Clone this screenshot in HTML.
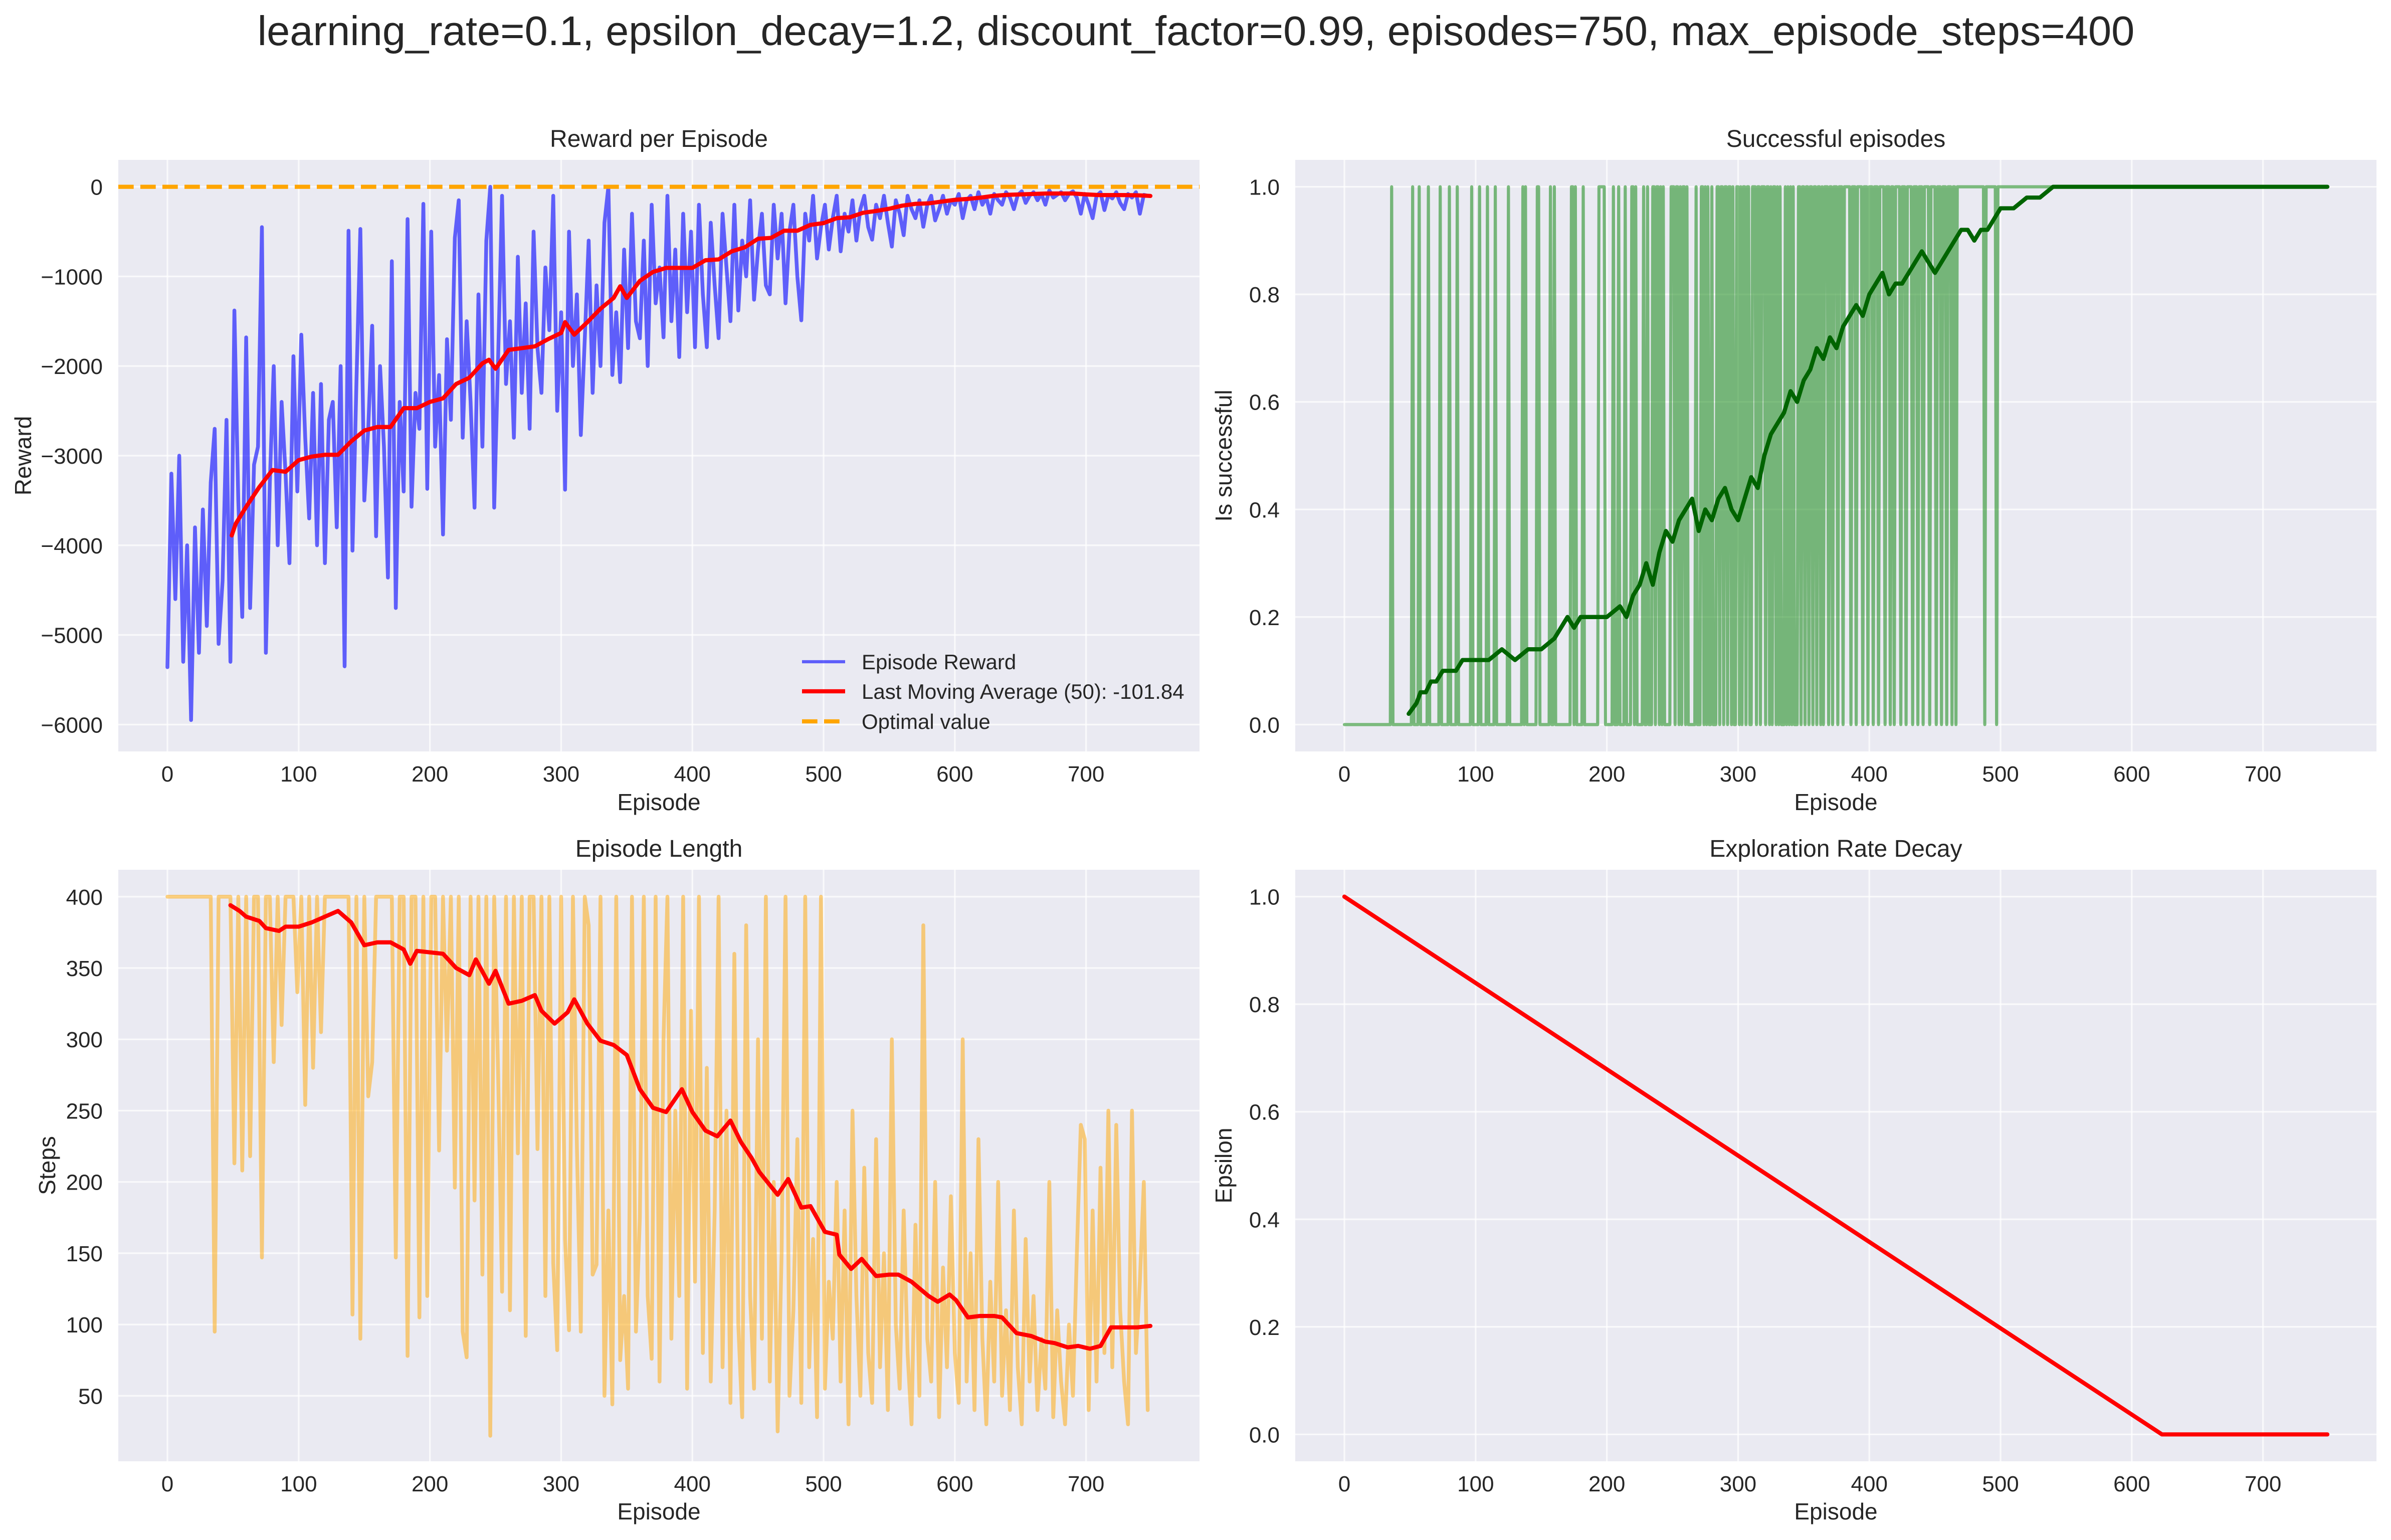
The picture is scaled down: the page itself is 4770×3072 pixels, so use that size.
<!DOCTYPE html>
<html><head><meta charset="utf-8">
<style>
html,body{margin:0;padding:0;background:#fff;}
svg{display:block;font-family:"Liberation Sans",Arial,sans-serif;}
</style></head>
<body>
<svg id="fig" width="4770" height="3072" viewBox="0 0 4770 3072" xmlns="http://www.w3.org/2000/svg">
<rect width="4770" height="3072" fill="#ffffff"/>
<text x="2386" y="90" font-size="83" text-anchor="middle" fill="#262626">learning_rate=0.1, epsilon_decay=1.2, discount_factor=0.99, episodes=750, max_episode_steps=400</text>
</svg>
<script>
// ---------- data ----------
const xTickVals = [0,100,200,300,400,500,600,700];
const rewardTickVals = [0,-1000,-2000,-3000,-4000,-5000,-6000];
const fracTickVals = [0,0.2,0.4,0.6,0.8,1.0];
const fracTickLabels = ["0.0","0.2","0.4","0.6","0.8","1.0"];
const stepTickVals = [50,100,150,200,250,300,350,400];

const sampleStep = 3; // episodes between samples of rewardSamples / stepSamples
const rewardSamples = [
-5360,-3200,-4600,-3000,-5300,-4000,-5950,-3800,-5200,-3600,
-4900,-3300,-2700,-5100,-4400,-2600,-5300,-1380,-3500,-4800,
-1680,-4700,-3100,-2900,-450,-5200,-3300,-2000,-4000,-2400,
-3200,-4200,-1890,-3400,-1650,-2800,-3700,-2300,-4000,-2200,
-4200,-2600,-2400,-3800,-2000,-5350,-490,-4060,-2200,-470,
-3500,-2700,-1550,-3900,-2000,-2900,-4360,-830,-4700,-2400,
-3400,-360,-3570,-2300,-2700,-190,-3370,-500,-2900,-2100,
-3880,-1700,-2600,-570,-150,-2800,-1500,-2400,-3580,-1200,
-2900,-600,0,-3580,-1900,-100,-2200,-1500,-2800,-780,
-2300,-1300,-2700,-500,-1800,-2300,-900,-1600,-100,-2500,
-1400,-3380,-500,-2000,-1200,-2770,-1700,-600,-2300,-1100,
-2000,-400,0,-2100,-1400,-2180,-700,-1800,-300,-1500,
-1690,-600,-2000,-200,-1300,-900,-1680,-100,-1500,-700,
-1900,-300,-1400,-500,-1790,-200,-1200,-1790,-400,-1100,
-1690,-300,-900,-1500,-200,-1380,-600,-1000,-150,-1260,
-700,-300,-1100,-1200,-200,-800,-300,-1300,-500,-200,
-1000,-1490,-300,-600,-100,-800,-450,-200,-700,-350,
-100,-720,-300,-500,-150,-600,-250,-100,-450,-590,
-200,-350,-100,-400,-667,-150,-300,-540,-100,-250,
-350,-150,-446,-200,-100,-375,-250,-100,-300,-150,
-200,-80,-350,-150,-100,-250,-60,-200,-120,-300,
-80,-150,-200,-60,-120,-250,-90,-50,-180,-100,
-60,-150,-80,-200,-40,-120,-90,-60,-150,-80,
-50,-120,-300,-80,-200,-350,-100,-60,-260,-90,
-130,-60,-180,-250,-80,-120,-60,-300,-90,-100];
const rewardMaEps = [49,52,60,70,80,90,100,110,120,130,140,150,160,170,180,190,200,210,220,230,240,245,250,260,270,280,290,300,303,310,320,330,340,345,350,360,370,380,400,410,420,430,440,450,460,470,480,490,500,510,520,530,540,550,560,570,580,590,600,610,620,630,640,650,660,670,680,690,700,710,720,730,740,749];
const rewardMaVals = [-3890,-3760,-3570,-3350,-3160,-3180,-3050,-3010,-2990,-2990,-2840,-2720,-2680,-2680,-2470,-2470,-2400,-2360,-2200,-2130,-1970,-1930,-2030,-1820,-1800,-1780,-1700,-1630,-1510,-1650,-1510,-1360,-1240,-1110,-1240,-1050,-950,-905,-905,-820,-810,-720,-675,-580,-570,-490,-490,-425,-405,-350,-340,-290,-270,-245,-210,-190,-185,-165,-145,-135,-120,-100,-90,-85,-80,-75,-75,-75,-85,-92,-92,-92,-95,-102];
const optimalValue = 0;

const totalEpisodes = 750;
const earlySuccessEps = [36,52,57,64,73,80,86,97,103,109,115,125,136,138,147,148,157,160,173,174,176,182,194,195,196,197,198,205,209,214,219,220,222,228,231,235,236,238,239,241,243,249,250,251,253,254,256,258,259,261,268,272,273,275,277,280,284,285,287,288,290,291,293,294,296,299,300,302,304,305,307,308,311,312,313,315,316,318,319,320,322,323,325,327,328,330,332,336,338,340,342,346,347,349,350,352,353,355,356,358,359,361,362,364,366,367,368,370,371,373,374,375,377,378,379,381,382,383];
const lateFailEps = [386,390,395,399,403,407,412,416,419,424,428,433,437,441,446,451,455,459,463,466,488,497];
const lateStartEp = 384;
const successMaEps = [49,55,58,62,66,70,75,80,85,90,95,100,110,120,130,140,150,160,165,170,175,180,190,200,210,215,220,225,230,235,240,245,250,255,260,265,270,275,280,285,290,295,300,305,310,315,320,325,330,335,340,345,350,355,360,365,370,375,380,385,390,395,400,405,410,415,420,425,430,435,440,445,450,455,460,465,470,475,480,485,490,495,500,505,510,520,530,540,545,749];
const successMaVals = [0.02,0.04,0.06,0.06,0.08,0.08,0.10,0.10,0.10,0.12,0.12,0.12,0.12,0.14,0.12,0.14,0.14,0.16,0.18,0.20,0.18,0.20,0.20,0.20,0.22,0.20,0.24,0.26,0.30,0.26,0.32,0.36,0.34,0.38,0.40,0.42,0.36,0.40,0.38,0.42,0.44,0.40,0.38,0.42,0.46,0.44,0.50,0.54,0.56,0.58,0.62,0.60,0.64,0.66,0.70,0.68,0.72,0.70,0.74,0.76,0.78,0.76,0.80,0.82,0.84,0.80,0.82,0.82,0.84,0.86,0.88,0.86,0.84,0.86,0.88,0.90,0.92,0.92,0.90,0.92,0.92,0.94,0.96,0.96,0.96,0.98,0.98,1.0,1.0,1.0];

const stepSamples = [
400,400,400,400,400,400,400,400,400,400,
400,400,95,400,400,400,400,213,400,208,
400,218,400,400,147,400,400,284,400,310,
400,400,400,333,400,254,400,280,400,305,
400,400,400,400,400,400,400,107,400,90,
400,260,284,400,400,400,400,400,147,400,
400,78,400,400,105,400,120,400,400,222,
400,292,400,196,400,95,77,400,187,400,
135,400,22,400,275,123,400,110,400,220,
400,92,400,400,223,400,120,400,143,82,
400,160,96,400,225,95,400,380,135,142,
400,50,180,44,400,75,120,55,400,95,
175,400,120,76,400,60,300,400,90,250,
120,400,55,320,130,400,80,280,60,180,
400,70,250,45,360,100,35,380,120,55,
300,90,400,60,200,25,150,400,50,110,
230,45,400,70,160,35,400,55,130,90,
200,60,180,30,250,120,50,210,80,45,
230,70,150,40,300,100,55,180,80,30,
170,50,380,90,60,200,35,140,70,190,
80,45,300,60,150,40,230,90,30,130,
60,200,50,110,40,180,70,30,160,60,
120,40,90,55,200,35,110,60,30,100,
50,150,240,230,40,180,60,210,80,250,
70,240,110,60,30,250,80,130,200,40];
const stepMaEps = [48,55,60,70,75,85,90,100,110,120,130,140,150,160,170,180,185,190,200,210,220,230,235,245,250,260,270,280,285,295,305,310,320,330,340,350,360,370,380,392,400,410,419,429,437,445,451,465,473,483,490,501,510,512,521,529,540,550,557,567,580,587,596,601,610,619,630,636,647,658,669,676,686,694,703,711,719,728,739,749];
const stepMaVals = [394,390,386,383,378,376,379,379,382,386,390,382,366,368,368,363,353,362,361,360,350,345,356,339,348,325,327,331,320,311,319,328,311,299,296,289,265,252,249,265,249,236,232,243,228,217,207,191,202,182,183,165,163,149,139,146,134,135,135,130,120,116,121,117,105,106,106,105,94,92,88,87,84,85,83,85,98,98,98,99];

const epsilonEps = [0,623,749];
const epsilonVals = [1.0,0.0,0.0];

// ---------- helpers ----------
const NS = "http://www.w3.org/2000/svg";
const fig = document.getElementById("fig");
function mk(tag, parent){ const e = document.createElementNS(NS, tag); parent.appendChild(e); return e; }
const XMIN = -37.45, XMAX = 786.45;
function makeAxes(l, r, t, b, ymin, ymax){
  return { l, r, t, b, ymin, ymax,
    sx: v => l + (v - XMIN) / (XMAX - XMIN) * (r - l),
    sy: v => b - (v - ymin) / (ymax - ymin) * (b - t) };
}
function fmtMinus(v){ return v < 0 ? "\u2212" + Math.abs(v) : String(v); }

function drawFrame(ax, name, yVals, yLabels){
  const g = mk("g", fig);
  
  
  const bg = mk("rect", g);
  bg.setAttribute("x", ax.l); bg.setAttribute("y", ax.t);
  bg.setAttribute("width", ax.r - ax.l); bg.setAttribute("height", ax.b - ax.t);
  bg.setAttribute("fill", "#EAEAF2");
  
  
  xTickVals.forEach(v => {
    const x = ax.sx(v);
    const ln = mk("line", g);
    ln.setAttribute("x1", x); ln.setAttribute("x2", x); ln.setAttribute("y1", ax.t); ln.setAttribute("y2", ax.b);
    ln.setAttribute("stroke", "#ffffff"); ln.setAttribute("stroke-width", "3.3"); ln.setAttribute("opacity", "0.75");
    
    
    const tx = mk("text", g);
    tx.setAttribute("x", x); tx.setAttribute("y", ax.b + 60);
    tx.setAttribute("font-size", "44"); tx.setAttribute("text-anchor", "middle"); tx.setAttribute("fill", "#262626");
    tx.textContent = String(v);
    
    
  });
  yVals.forEach((v, i) => {
    const y = ax.sy(v);
    const ln = mk("line", g);
    ln.setAttribute("x1", ax.l); ln.setAttribute("x2", ax.r); ln.setAttribute("y1", y); ln.setAttribute("y2", y);
    ln.setAttribute("stroke", "#ffffff"); ln.setAttribute("stroke-width", "3.3"); ln.setAttribute("opacity", "0.75");
    
    
    const tx = mk("text", g);
    tx.setAttribute("x", ax.l - 31); tx.setAttribute("y", y + 16);
    tx.setAttribute("font-size", "44"); tx.setAttribute("text-anchor", "end"); tx.setAttribute("fill", "#262626");
    tx.textContent = yLabels[i];
    
    
  });
  return g;
}
function addText(txt, x, y, size, name, rot){
  const t = mk("text", fig);
  t.setAttribute("x", x); t.setAttribute("y", y);
  t.setAttribute("font-size", size); t.setAttribute("text-anchor", "middle"); t.setAttribute("fill", "#262626");
  if (rot) t.setAttribute("transform", "rotate(-90 " + x + " " + y + ")");
  t.textContent = txt;
  
  
  return t;
}
function polyline(ax, xs, ys, stroke, width, opacity, name, clipId){
  const p = mk("polyline", fig);
  p.setAttribute("points", xs.map((x, i) => ax.sx(x).toFixed(1) + "," + ax.sy(ys[i]).toFixed(1)).join(" "));
  p.setAttribute("fill", "none"); p.setAttribute("stroke", stroke); p.setAttribute("stroke-width", width);
  p.setAttribute("stroke-opacity", opacity); p.setAttribute("stroke-linejoin", "round"); p.setAttribute("stroke-linecap", "round");
  if (clipId) p.setAttribute("clip-path", "url(#" + clipId + ")");
  
  
  return p;
}
function clip(id, ax){
  let defs = fig.querySelector("defs");
  if (!defs) defs = mk("defs", fig);
  const c = mk("clipPath", defs); c.setAttribute("id", id);
  const r = mk("rect", c);
  r.setAttribute("x", ax.l); r.setAttribute("y", ax.t); r.setAttribute("width", ax.r - ax.l); r.setAttribute("height", ax.b - ax.t);
}

// ---------- panel 1: reward ----------
const ax1 = makeAxes(236, 2393, 319, 1499, -6300, 300);
clip("c1", ax1);
drawFrame(ax1, "reward", rewardTickVals, rewardTickVals.map(fmtMinus));
addText("Reward per Episode", (ax1.l + ax1.r) / 2, 293, 48, "reward-panel-title");
addText("Episode", (ax1.l + ax1.r) / 2, 1616, 46, "reward-x-axis-title");
addText("Reward", 62, (ax1.t + ax1.b) / 2, 46, "reward-y-axis-title", true);
const rEps = rewardSamples.map((v, i) => i * sampleStep);
polyline(ax1, rEps, rewardSamples, "#0000FF", 7.5, 0.6, "episode-reward-line", "c1");
polyline(ax1, rewardMaEps, rewardMaVals, "#FF0000", 8.3, 1, "reward-moving-average-line", "c1");
{
  const l = mk("line", fig);
  l.setAttribute("x1", ax1.l); l.setAttribute("x2", ax1.r);
  l.setAttribute("y1", ax1.sy(optimalValue)); l.setAttribute("y2", ax1.sy(optimalValue));
  l.setAttribute("stroke", "#FFA500"); l.setAttribute("stroke-width", "8.3"); l.setAttribute("stroke-dasharray", "30.7 13.3");
  
  
}
// legend
{
  const g = mk("g", fig);
  
  
  const items = [["Episode Reward", "#0000FF", 0.6, null], ["Last Moving Average (50): -101.84", "#FF0000", 1, null], ["Optimal value", "#FFA500", 1, "30.7 13.3"]];
  const ys = [1320, 1379, 1439];
  items.forEach((it, i) => {
    const ln = mk("line", g);
    ln.setAttribute("x1", 1600); ln.setAttribute("x2", 1686); ln.setAttribute("y1", ys[i]); ln.setAttribute("y2", ys[i]);
    ln.setAttribute("stroke", it[1]); ln.setAttribute("stroke-opacity", it[2]); ln.setAttribute("stroke-width", i === 0 ? 6.2 : 8.3);
    if (it[3]) ln.setAttribute("stroke-dasharray", it[3]);
    
    
    const t = mk("text", g);
    t.setAttribute("x", 1719); t.setAttribute("y", ys[i] + 15); t.setAttribute("font-size", "42"); t.setAttribute("fill", "#262626");
    t.textContent = it[0];
    
    
  });
}

// ---------- panel 2: success ----------
const ax2 = makeAxes(2584, 4741, 319, 1499, -0.05, 1.05);
clip("c2", ax2);
drawFrame(ax2, "success", fracTickVals, fracTickLabels);
addText("Successful episodes", (ax2.l + ax2.r) / 2, 293, 48, "success-panel-title");
addText("Episode", (ax2.l + ax2.r) / 2, 1616, 46, "success-x-axis-title");
addText("Is successful", 2457, (ax2.t + ax2.b) / 2, 46, "success-y-axis-title", true);
const sEps = [], sVals = [];
for (let e = 0; e < totalEpisodes; e++) {
  sEps.push(e);
  let v;
  if (e < lateStartEp) v = earlySuccessEps.indexOf(e) >= 0 ? 1 : 0;
  else v = lateFailEps.indexOf(e) >= 0 ? 0 : 1;
  sVals.push(v);
}
polyline(ax2, sEps, sVals, "#008000", 6.2, 0.5, "success-indicator-line", "c2");
polyline(ax2, successMaEps, successMaVals, "#006400", 8.3, 1, "success-moving-average-line", "c2");

// ---------- panel 3: steps ----------
const ax3 = makeAxes(236, 2393, 1735, 2915, 4.1, 418.9);
clip("c3", ax3);
drawFrame(ax3, "steps", stepTickVals, stepTickVals.map(String));
addText("Episode Length", (ax3.l + ax3.r) / 2, 1709, 48, "steps-panel-title");
addText("Episode", (ax3.l + ax3.r) / 2, 3031, 46, "steps-x-axis-title");
addText("Steps", 110, (ax3.t + ax3.b) / 2, 46, "steps-y-axis-title", true);
const stEps = stepSamples.map((v, i) => i * sampleStep);
polyline(ax3, stEps, stepSamples, "#FFA500", 7.5, 0.5, "episode-length-line", "c3");
polyline(ax3, stepMaEps, stepMaVals, "#FF0000", 8.3, 1, "steps-moving-average-line", "c3");

// ---------- panel 4: epsilon ----------
const ax4 = makeAxes(2584, 4741, 1735, 2915, -0.05, 1.05);
clip("c4", ax4);
drawFrame(ax4, "epsilon", fracTickVals, fracTickLabels);
addText("Exploration Rate Decay", (ax4.l + ax4.r) / 2, 1709, 48, "epsilon-panel-title");
addText("Episode", (ax4.l + ax4.r) / 2, 3031, 46, "epsilon-x-axis-title");
addText("Epsilon", 2457, (ax4.t + ax4.b) / 2, 46, "epsilon-y-axis-title", true);
polyline(ax4, epsilonEps, epsilonVals, "#FF0000", 8.3, 1, "epsilon-decay-line", "c4");
</script>
</body></html>
